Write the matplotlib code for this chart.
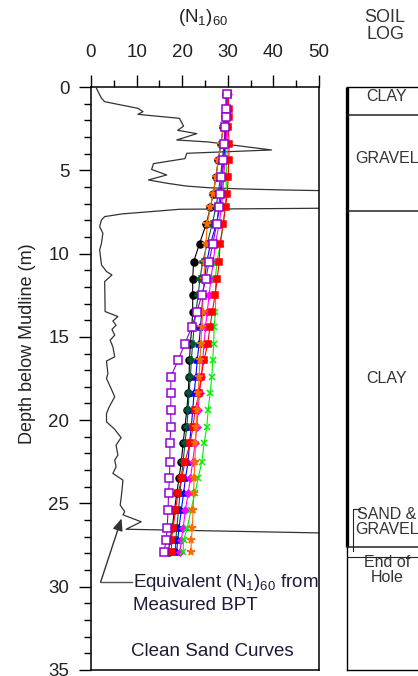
import numpy as np
import matplotlib
matplotlib.use("Agg")
import matplotlib.pyplot as plt

plt.rcParams['font.family'] = ['Liberation Sans', 'DejaVu Sans']
plt.rcParams['mathtext.fontset'] = 'custom'
plt.rcParams['mathtext.rm'] = 'Liberation Sans'
plt.rcParams['mathtext.it'] = 'Liberation Sans:italic'

# ---------- data ----------
depth = [0.4, 1.3, 1.8, 2.4, 3.4, 4.4, 5.4, 6.4, 7.2, 8.2, 9.4, 10.5, 11.5, 12.5, 13.5,
         14.4, 15.4, 16.4, 17.4, 18.4, 19.4, 20.4, 21.4, 22.5, 23.5, 24.4, 25.4, 26.5, 27.2, 27.9]

n_orange = [29.6, 29.5, 29.3, 29.0, 28.5, 27.9, 27.4, 26.8, 26.2, 25.5, 25.2, 24.9, 24.8, 24.6, 24.5,
            24.3, 24.1, 23.9, 23.7, 23.5, 23.3, 23.1, 22.9, 22.8, 22.6, 22.5, 22.4, 22.2, 22.0, 21.9]
n_black = [29.6, 29.5, 29.3, 29.0, 28.5, 27.9, 27.4, 26.8, 26.2, 25.3, 23.8, 22.5, 22.3, 22.3, 22.3,
           22.1, 21.8, 21.6, 21.5, 21.3, 21.0, 20.6, 20.2, 19.8, 19.3, 18.8, 18.3, 17.8, 17.3, 17.0]
n_dkgreen = [29.9, 29.8, 29.7, 29.5, 29.2, 28.8, 28.4, 27.9, 27.4, 26.6, 25.5, 24.5, 23.9, 23.5, 23.0,
             22.6, 22.3, 22.0, 21.8, 21.5, 21.3, 21.0, 20.6, 20.2, 19.8, 19.5, 19.2, 18.8, 18.6, 18.5]
n_blue = [30.0, 29.9, 29.8, 29.6, 29.4, 29.1, 28.8, 28.6, 28.3, 27.5, 26.2, 25.4, 24.9, 24.5, 24.3,
          24.0, 23.7, 23.3, 23.0, 22.6, 22.3, 22.0, 21.6, 21.3, 20.7, 20.3, 19.8, 19.3, 19.0, 18.8]
n_magenta = [30.0, 30.0, 29.9, 29.8, 29.6, 29.4, 29.1, 28.9, 28.6, 28.1, 27.3, 26.8, 26.3, 25.9, 25.5,
             25.1, 24.8, 24.5, 24.2, 23.8, 23.5, 23.2, 22.8, 22.3, 21.8, 21.3, 20.7, 20.2, 19.8, 19.5]
n_green = [30.1, 30.1, 30.0, 30.0, 29.9, 29.8, 29.7, 29.6, 29.4, 29.0, 28.4, 27.6, 27.3, 27.3, 27.3,
           27.0, 26.9, 26.7, 26.5, 26.1, 25.7, 25.4, 24.8, 24.3, 23.5, 22.8, 21.9, 21.1, 20.3, 20.2]
n_red = [30.1, 30.2, 30.2, 30.1, 30.3, 30.2, 30.1, 29.9, 29.5, 29.0, 28.3, 28.1, 27.7, 27.2, 26.6,
         26.1, 25.6, 24.8, 24.1, 23.7, 22.8, 22.4, 21.7, 20.6, 19.9, 19.1, 18.5, 18.0, 17.6, 17.7]
n_purple = [29.8, 29.7, 29.6, 29.4, 29.2, 28.9, 28.6, 28.3, 28.0, 27.6, 26.7, 25.9, 25.2, 24.3, 23.2,
            22.1, 20.6, 19.1, 17.5, 17.5, 17.5, 17.5, 17.3, 17.3, 17.2, 17.0, 16.9, 16.7, 16.5, 16.0]

# equivalent (N1)60 from measured BPT
bpt_n = [1.2, 2.3, 3.0, 6.6, 10.3, 11.4, 10.3, 14.0, 19.4, 20.3, 19.0, 23.2, 18.8, 25.7, 39.6,
         21.0, 20.6, 13.7, 13.3, 16.6, 12.6, 16.7, 21.0, 26.0, 33.0, 42.0, 50.0, 62.0, 62.0, 50.0,
         19.5, 6.8, 3.0, 2.3, 1.9, 2.6, 2.3, 1.9, 2.3, 3.4, 4.6, 3.0, 3.1, 5.9, 4.8, 5.5, 4.6,
         5.2, 4.2, 4.8, 5.2, 3.4, 3.7, 3.4, 4.4, 5.2, 4.0, 3.4, 3.4, 5.2, 6.6, 5.5, 5.9, 5.2,
         5.5, 4.8, 7.0, 6.8, 6.6, 6.4, 7.4, 7.0, 8.1, 11.0, 7.7, 50.0]
bpt_d = [0.08, 0.68, 0.88, 1.08, 1.28, 1.48, 1.64, 1.74, 1.88, 2.35, 2.6, 2.8, 3.18, 3.3, 3.78,
         3.98, 4.3, 4.6, 4.95, 5.28, 5.58, 5.78, 5.95, 6.05, 6.12, 6.18, 6.22, 6.3, 7.2, 7.28,
         7.34, 7.62, 7.78, 7.98, 8.38, 8.78, 9.38, 9.78, 10.68, 11.08, 11.28, 11.68, 13.48, 13.78, 14.05, 14.3, 14.55,
         14.9, 15.2, 15.6, 16.2, 16.45, 17.2, 17.5, 18.1, 18.6, 19.2, 19.6, 20.1, 20.55, 21.05, 21.5, 22.1, 22.4,
         22.8, 23.2, 23.6, 24.2, 24.7, 25.1, 25.5, 25.68, 25.8, 26.1, 26.55, 26.77]

# soil log layers
layer_bounds = [0.0, 1.7, 7.42, 27.6, 35.0]
layer_labels = ['CLAY', 'GRAVEL', 'CLAY', 'SAND &\nGRAVEL', 'End of\nHole']
label_depths = [0.6, 4.3, 17.5, 26.1, 29.0]

# ---------- figure ----------
W, H = 418, 676
fig = plt.figure(figsize=(W / 100, H / 100), dpi=100)
txt = '#222222'

ax = fig.add_axes([91 / W, 1 - 670 / H, 228 / W, 583 / H])
ax.set_xlim(0, 50)
ax.set_ylim(35, 0)

ax.plot(bpt_n, bpt_d, color='#333333', lw=0.9, zorder=2)

# drawing order matters where the curves overlap near the top
series = [
    (n_black, '#000000', 'o', 5, '#000000'),
    (n_dkgreen, '#00553A', 'P', 4.5, '#00553A'),
    (n_blue, '#0000FF', '^', 4.5, '#0000FF'),
    (n_magenta, '#FF00FF', 'D', 3.5, '#FF00FF'),
    (n_green, '#00EE00', 'x', 5, '#00EE00'),
    (n_red, '#FF0000', 's', 5, '#FF0000'),
    (n_orange, '#FF6A00', '*', 5.5, '#FF6A00'),
    (n_purple, '#9400D3', 's', 6, 'white'),
]
for vals, col, mk, ms, fc in series:
    ax.plot(vals, depth, color=col, lw=0.8, marker=mk, ms=ms, mfc=fc, mec=col,
            mew=1.1, zorder=3)

ax.xaxis.tick_top()
ax.set_xticks(np.arange(0, 51, 10))
ax.set_xticks(np.arange(0, 51, 5), minor=True)
ax.set_yticks(np.arange(0, 36, 5))
ax.set_yticks(np.arange(0, 36, 1), minor=True)
ax.tick_params(axis='both', which='major', direction='out', length=8.5, width=1,
               labelsize=13.5, labelcolor=txt)
ax.tick_params(axis='both', which='minor', direction='out', length=5, width=1)
ax.tick_params(axis='x', which='major', pad=10)
ax.tick_params(axis='y', which='major', pad=7)
for s in ax.spines.values():
    s.set_linewidth(1.1)

fig.text(203 / W, 1 - 17 / H, r'(N$_1$)$_{60}$', ha='center', va='center',
         fontsize=13.5, color=txt)
fig.text(28 / W, 1 - 344 / H, 'Depth below Mudline (m)', rotation=90,
         ha='center', va='center', fontsize=13, color=txt)

# annotations
ann = '#1c1c38'
ax.text(9.2, 29.73, r'Equivalent (N$_1$)$_{60}$ from', fontsize=13.5, color=ann,
        ha='left', va='center')
ax.text(9.2, 31.1, 'Measured BPT', fontsize=13.5, color=ann, ha='left', va='center')
ax.text(8.7, 33.9, 'Clean Sand Curves', fontsize=13.5, color=ann, ha='left', va='center')
ax.plot([9.0, 2.1], [29.73, 29.73], color='#555555', lw=1.0)
ax.annotate('', xy=(6.7, 25.9), xytext=(2.1, 29.73),
            arrowprops=dict(arrowstyle='-|>,head_width=0.25,head_length=0.6',
                            color='#333333', lw=1.0, mutation_scale=12,
                            shrinkA=0, shrinkB=0))

# ---------- soil log ----------
lx0 = 346.7
lx1 = 427.3
lg = fig.add_axes([lx0 / W, 1 - 670 / H, (lx1 - lx0) / W, 583 / H])
lg.set_xlim(0, 1)
lg.set_ylim(35, 0)
lg.set_xticks([])
lg.set_yticks([])
for s in lg.spines.values():
    s.set_linewidth(1.0)
lg.spines['left'].set_visible(False)
lg.plot([0, 0], [0, 27.6], color='black', lw=2.4, solid_capstyle='butt', clip_on=False)
lg.plot([0, 0], [27.6, 35], color='black', lw=1.0, clip_on=False)
for b in layer_bounds[1:-1]:
    lg.axhline(b, color='#222222', lw=1.1)
lg.axhline(28.2, color='#222222', lw=0.8)
# bracket for sand & gravel
lg.plot([0.16, 0.08, 0.08], [25.35, 25.35, 27.85], color='#222222', lw=0.8)

for lab, dd in zip(layer_labels, label_depths):
    lg.text(0.5, dd, lab, ha='center', va='center', fontsize=11.5, color='#333333',
            linespacing=1.0)

fig.text(385 / W, 1 - 26 / H, 'SOIL\nLOG', ha='center', va='center', fontsize=13,
         color='#333333', linespacing=1.0)

fig.savefig('out.png', dpi=100)
